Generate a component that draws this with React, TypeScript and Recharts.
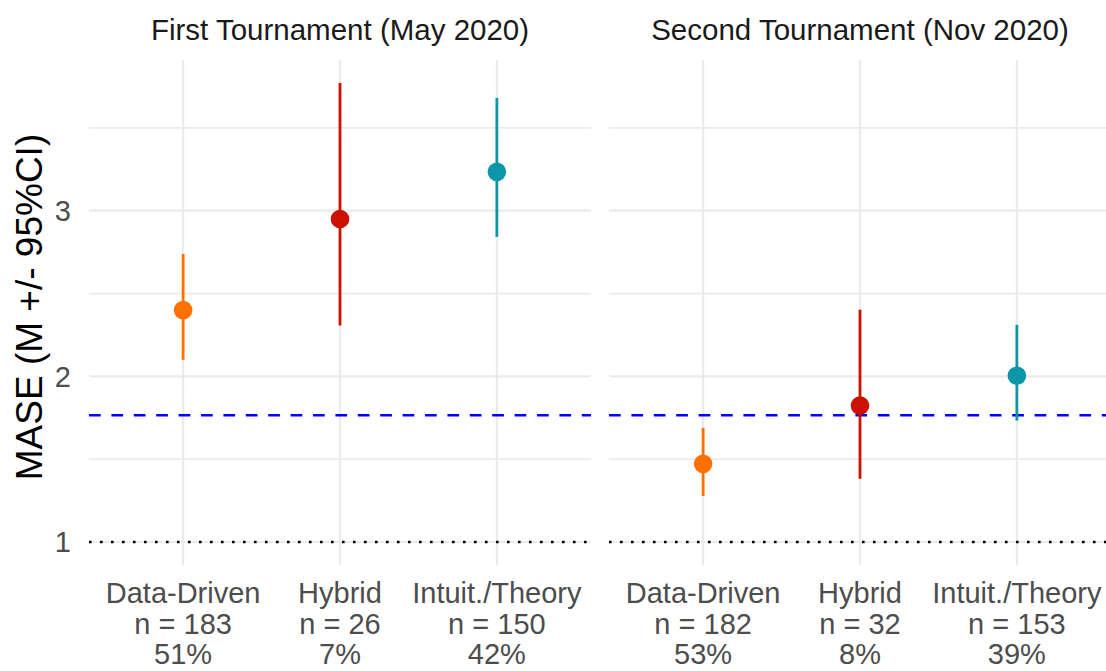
import React from 'react'
import {
  ComposedChart,
  Scatter,
  ErrorBar,
  XAxis,
  YAxis,
  ReferenceLine,
} from 'recharts'

// ─── data ─────────────────────────────────────────────────────────────────────
const GROUPS = ['Data-Driven', 'Hybrid', 'Intuit./Theory']
const GROUP_X = [1, 2, 3]
const GROUP_COLORS = ['#ff7000', '#cc1100', '#0c96a8']

const T1_TITLE = 'First Tournament (May 2020)'
const T1_MEAN = [2.4, 2.95, 3.235]
const T1_LOW = [2.1, 2.307, 2.842]
const T1_HIGH = [2.739, 3.771, 3.681]
const T1_N = [183, 26, 150]
const T1_PCT = [51, 7, 42]

const T2_TITLE = 'Second Tournament (Nov 2020)'
const T2_MEAN = [1.472, 1.823, 2.004]
const T2_LOW = [1.277, 1.382, 1.733]
const T2_HIGH = [1.689, 2.402, 2.311]
const T2_N = [182, 32, 153]
const T2_PCT = [53, 8, 39]

const OVERALL_MEAN = 1.765 // blue dashed line
const BASELINE = 1 // dotted line (naive benchmark)
const Y_MAJOR = [1, 2, 3]
const Y_MINOR = [1.5, 2.5, 3.5]
const Y_DOMAIN: [number, number] = [0.861, 3.91]

const FONT = '"Liberation Sans", Arial, sans-serif'
const GRID = '#ebebeb'
const TICK_GREY = '#4d4d4d'

// ─── layout ───────────────────────────────────────────────────────────────────
const W = 1106
const H = 671
const TOP = 60
const X_AXIS_H = 106
const Y_AXIS_W = 89
const PANEL_W = 502
const RIGHT_LEFT = 609

interface PanelProps {
  mean: number[]
  low: number[]
  high: number[]
  n: number[]
  pct: number[]
  showYAxis: boolean
}

function XTick(props: any) {
  const { x, y, payload, n, pct } = props
  const i = GROUP_X.indexOf(payload.value)
  const lines = [GROUPS[i], `n = ${n[i]}`, `${pct[i]}%`]
  return (
    <g transform={`translate(${x},${y})`}>
      {lines.map((t, k) => (
        <text
          key={k}
          x={0}
          y={30 + k * 30.5}
          textAnchor="middle"
          fill={TICK_GREY}
          fontSize={29}
          fontFamily={FONT}
        >
          {t}
        </text>
      ))}
    </g>
  )
}

function Panel({ mean, low, high, n, pct, showYAxis }: PanelProps) {
  return (
    <ComposedChart
      width={showYAxis ? Y_AXIS_W + PANEL_W : PANEL_W}
      height={H}
      margin={{ top: TOP, bottom: 0, left: 0, right: 0 }}
    >
      <XAxis
        type="number"
        dataKey="x"
        domain={[0.4, 3.6]}
        ticks={GROUP_X}
        allowDataOverflow
        axisLine={false}
        tickLine={false}
        height={X_AXIS_H}
        interval={0}
        tick={<XTick n={n} pct={pct} />}
      />
      <YAxis
        type="number"
        dataKey="y"
        domain={Y_DOMAIN}
        ticks={Y_MAJOR}
        allowDataOverflow
        hide={!showYAxis}
        width={Y_AXIS_W}
        axisLine={false}
        tickLine={false}
        tickSize={6}
        tickMargin={12}
        interval={0}
        tick={{ fill: TICK_GREY, fontSize: 29, fontFamily: FONT }}
      />
      {/* panel grid (ggplot theme_minimal look) */}
      {Y_MINOR.map((v) => (
        <ReferenceLine key={`mn${v}`} y={v} stroke={GRID} strokeWidth={1.8} />
      ))}
      {Y_MAJOR.map((v) => (
        <ReferenceLine key={`mj${v}`} y={v} stroke={GRID} strokeWidth={2.2} />
      ))}
      {GROUP_X.map((v) => (
        <ReferenceLine key={`vx${v}`} x={v} stroke={GRID} strokeWidth={2.2} />
      ))}
      <ReferenceLine y={BASELINE} stroke="#000" strokeWidth={2.6} strokeDasharray="2.6 8.4" />
      <ReferenceLine y={OVERALL_MEAN} stroke="#0000ff" strokeWidth={2.6} strokeDasharray="11.7 10.7" />
      {GROUPS.map((g, i) => (
        <Scatter
          key={g}
          name={g}
          data={[{ x: GROUP_X[i], y: mean[i], err: [mean[i] - low[i], high[i] - mean[i]] }]}
          dataKey="y"
          fill={GROUP_COLORS[i]}
          isAnimationActive={false}
          shape={(p: any) => <circle cx={p.cx} cy={p.cy} r={9.3} fill={GROUP_COLORS[i]} />}
        >
          <ErrorBar
            dataKey="err"
            direction="y"
            width={0}
            stroke={GROUP_COLORS[i]}
            strokeWidth={2.8}
            isAnimationActive={false}
          />
        </Scatter>
      ))}
    </ComposedChart>
  )
}

export default function App() {
  return (
    <div
      style={{
        position: 'absolute',
        left: 0,
        top: 0,
        width: W,
        height: H,
        overflow: 'hidden',
        background: '#fff',
        fontFamily: FONT,
      }}
    >
      <div style={{ position: 'absolute', left: 0, top: 0 }}>
        <Panel mean={T1_MEAN} low={T1_LOW} high={T1_HIGH} n={T1_N} pct={T1_PCT} showYAxis />
      </div>
      <div style={{ position: 'absolute', left: RIGHT_LEFT, top: 0 }}>
        <Panel mean={T2_MEAN} low={T2_LOW} high={T2_HIGH} n={T2_N} pct={T2_PCT} showYAxis={false} />
      </div>
      <svg
        width={W}
        height={H}
        style={{ position: 'absolute', left: 0, top: 0, pointerEvents: 'none' }}
      >
        <text x={Y_AXIS_W + PANEL_W / 2} y={40} textAnchor="middle" fontSize={29.5} fill="#1a1a1a" fontFamily={FONT}>
          {T1_TITLE}
        </text>
        <text x={RIGHT_LEFT + PANEL_W / 2} y={40} textAnchor="middle" fontSize={29.5} fill="#1a1a1a" fontFamily={FONT}>
          {T2_TITLE}
        </text>
        <text
          transform="translate(42,307) rotate(-90)"
          textAnchor="middle"
          fontSize={37}
          fill="#000"
          fontFamily={FONT}
        >
          MASE (M +/- 95%CI)
        </text>
      </svg>
    </div>
  )
}
